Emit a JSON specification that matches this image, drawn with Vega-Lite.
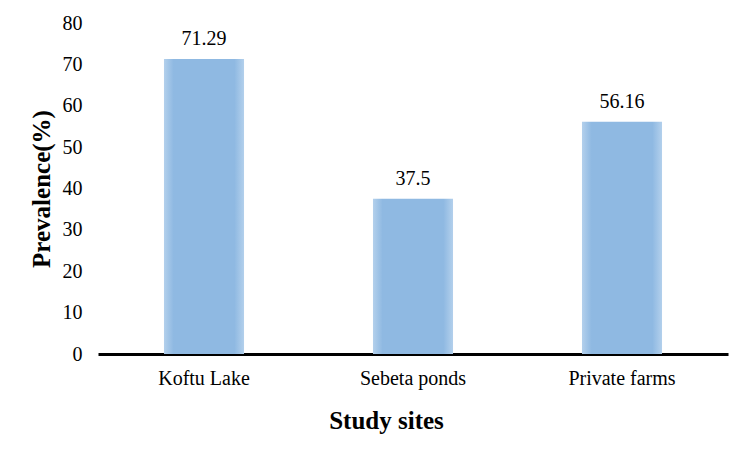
{
  "$schema": "https://vega.github.io/schema/vega-lite/v6.json",
  "autosize": {"type": "none"},
  "padding": {"left": 98, "top": 23, "right": 23, "bottom": 97},
  "width": 630,
  "height": 331,
  "background": "white",
  "config": {
    "view": {"stroke": null},
    "font": "Liberation Serif"
  },
  "data": {
    "values": [
      {"site": "Koftu Lake", "prevalence": 71.29, "label": "71.29"},
      {"site": "Sebeta ponds", "prevalence": 37.5, "label": "37.5"},
      {"site": "Private farms", "prevalence": 56.16, "label": "56.16"}
    ]
  },
  "encoding": {
    "x": {
      "field": "site",
      "type": "nominal",
      "sort": null,
      "scale": {"paddingInner": 0.617, "paddingOuter": 0.3157},
      "axis": {
        "title": "Study sites",
        "titleFont": "Liberation Serif",
        "titleFontSize": 25,
        "titleFontWeight": "bold",
        "titleColor": "black",
        "titlePadding": 20,
        "titleX": 288,
        "titleAlign": "center",
        "labelAngle": 0,
        "labelFont": "Liberation Serif",
        "labelFontSize": 20,
        "labelColor": "black",
        "labelPadding": 14,
        "ticks": false,
        "domainColor": "black",
        "domainWidth": 3
      }
    },
    "y": {
      "field": "prevalence",
      "type": "quantitative",
      "scale": {"domain": [0, 80]},
      "axis": {
        "title": "Prevalence(%)",
        "titleFont": "Liberation Serif",
        "titleFontSize": 25,
        "titleFontWeight": "bold",
        "titleColor": "black",
        "titlePadding": 8,
        "values": [0, 10, 20, 30, 40, 50, 60, 70, 80],
        "labelFont": "Liberation Serif",
        "labelFontSize": 20,
        "labelColor": "black",
        "labelPadding": 16,
        "ticks": false,
        "domain": false,
        "grid": false
      }
    }
  },
  "layer": [
    {
      "mark": {
        "type": "bar",
        "fill": {
          "gradient": "linear",
          "x1": 0, "y1": 0, "x2": 1, "y2": 0,
          "stops": [
            {"offset": 0, "color": "#b3d0ec"},
            {"offset": 0.12, "color": "#8fb9e2"},
            {"offset": 0.88, "color": "#8fb9e2"},
            {"offset": 1, "color": "#b3d0ec"}
          ]
        }
      }
    },
    {
      "mark": {"type": "text", "baseline": "alphabetic", "dy": -14, "fontSize": 20, "font": "Liberation Serif", "color": "black"},
      "encoding": {"text": {"field": "label"}}
    }
  ]
}
